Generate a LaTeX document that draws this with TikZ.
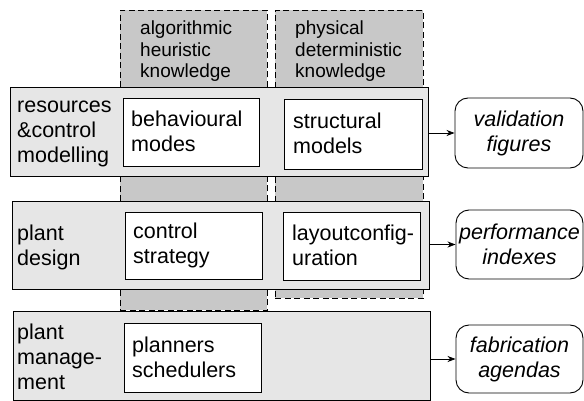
\documentclass[tikz,border=0pt]{standalone}
\usepackage{fontspec}
\setmainfont{Liberation Sans}
\usetikzlibrary{arrows.meta}
\definecolor{colgrey}{HTML}{C8C8C8}
\definecolor{rowgrey}{HTML}{E6E6E6}
\tikzset{
  mainfont/.style={font=\fontsize{21.5}{25}\selectfont},
  colbox/.style={draw, fill=colgrey, line width=0.8pt, dash pattern=on 6pt off 3.5pt},
  rowbox/.style={draw, fill=rowgrey, line width=0.9pt, inner sep=0pt},
  innerbox/.style={draw, fill=white, line width=0.9pt, inner sep=0pt, anchor=north west},
  innertext/.style={mainfont, align=left, inner sep=0pt, anchor=west},
  outbox/.style={draw, fill=white, line width=0.9pt, rounded corners=13pt, align=center, inner sep=1pt, font=\fontsize{21.5}{25}\selectfont\itshape},
  collabel/.style={font=\fontsize{19}{21.5}\selectfont, align=left, inner sep=0pt, anchor=north west},
  rowlabel/.style={mainfont, align=left, inner sep=0pt, anchor=west},
  arr/.style={-{Stealth[length=8pt,width=6pt,inset=2.5pt]}, line width=0.8pt},
}
\begin{document}
\begin{tikzpicture}[x=1pt,y=-1pt]
\useasboundingbox (0,0) rectangle (584,401);
% columns
\node[colbox, anchor=north west, minimum width=147pt, minimum height=300pt, inner sep=0pt] (col1) at (120,10) {};
\node[colbox, anchor=north west, minimum width=148pt, minimum height=288pt, inner sep=0pt] (col2) at (275,10) {};
\node[collabel] (c1l) at (140,21) {algorithmic\\heuristic\\knowledge};
\node[collabel] (c2l) at (295,21) {physical\\deterministic\\knowledge};
% rows
\node[rowbox, anchor=north west, minimum width=418pt, minimum height=89pt] (row1) at (10,87) {};
\node[rowbox, anchor=north west, minimum width=417pt, minimum height=88pt] (row2) at (12,201) {};
\node[rowbox, anchor=north west, minimum width=417pt, minimum height=88.5pt] (row3) at (13,311) {};
\node[rowlabel] (r1l) at (17,134) {resources\\\&control\\modelling};
\node[rowlabel] (r2l) at (17,247) {plant\\design};
\node[rowlabel] (r3l) at (17,357) {plant\\manage-\\ment};
% inner boxes
\node[innerbox, minimum width=136pt, minimum height=68pt] (bm) at (123,98) {};
\node[innerbox, minimum width=138pt, minimum height=70pt] (sm) at (284,99) {};
\node[innerbox, minimum width=137pt, minimum height=67pt] (cs) at (125,212) {};
\node[innerbox, minimum width=137pt, minimum height=68pt] (lc) at (283,212) {};
\node[innerbox, minimum width=137pt, minimum height=69pt] (ps) at (124,323) {};
\node[innertext] (bmt) at ([xshift=8pt,yshift=1pt]bm.west) {behavioural\\modes};
\node[innertext] (smt) at ([xshift=9pt,yshift=1pt]sm.west) {structural\\models};
\node[innertext] (cst) at ([xshift=8pt,yshift=1pt]cs.west) {control\\strategy};
\node[innertext] (lct) at ([xshift=9pt,yshift=1pt]lc.west) {layoutconfig-\\uration};
\node[innertext] (pst) at ([xshift=8pt,yshift=1pt]ps.west) {planners\\schedulers};
% output boxes
\node[outbox, minimum width=128pt, minimum height=70pt] (vf) at (519,133) {validation\\figures};
\node[outbox, minimum width=127pt, minimum height=69pt] (pi) at (519.5,244.5) {performance\\indexes};
\node[outbox, minimum width=127pt, minimum height=68pt] (fa) at (519.5,359) {fabrication\\agendas};
% arrows
\draw[arr] (row1.east |- vf.west) -- (vf.west);
\draw[arr] (row2.east |- pi.west) -- (pi.west);
\draw[arr] (row3.east |- fa.west) -- (fa.west);
\end{tikzpicture}
\end{document}
